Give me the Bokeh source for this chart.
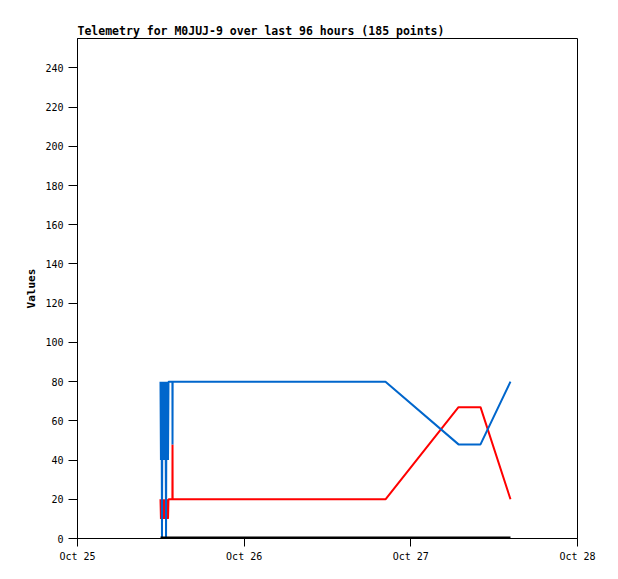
from datetime import datetime
import pandas as pd
from bokeh.plotting import figure
from bokeh.models import Range1d, FixedTicker, DatetimeTickFormatter, ColumnDataSource
from bokeh.embed import file_html
from bokeh.resources import INLINE

# ---- data ----
times = [
    "2023-10-25 11:57", "2023-10-25 12:01", "2023-10-25 12:06", "2023-10-25 12:10",
    "2023-10-25 12:14", "2023-10-25 12:19", "2023-10-25 12:23", "2023-10-25 12:27",
    "2023-10-25 12:32", "2023-10-25 12:36", "2023-10-25 12:40", "2023-10-25 12:45",
    "2023-10-25 12:49", "2023-10-25 12:53", "2023-10-25 12:58", "2023-10-25 13:02",
    "2023-10-25 13:06", "2023-10-25 13:40", "2023-10-25 13:41", "2023-10-25 13:42",
    "2023-10-26 20:21", "2023-10-27 06:52", "2023-10-27 10:02", "2023-10-27 14:21",
]
blue_vals = [80, 40, 80, 0, 80, 40, 80, 40, 80, 40, 80, 0,
             80, 40, 80, 40, 80, 80, 48, 80, 80, 48, 48, 80]
red_vals = [20, 10, 20, 10, 20, 10, 20, 10, 20, 10, 20, 10,
            20, 10, 20, 10, 20, 20, 48, 20, 20, 67, 67, 20]
black_vals = [0] * len(times)

x_start = "2023-10-25"
x_end = "2023-10-28"
day_ticks = ["2023-10-25", "2023-10-26", "2023-10-27", "2023-10-28"]
y_ticks = list(range(0, 241, 20))
title_text = "Telemetry for M0JUJ-9 over last 96 hours (185 points)"

# ---- build ----
src = ColumnDataSource(dict(t=pd.to_datetime(times), blue=blue_vals,
                            red=red_vals, black=black_vals))

FONT = "DejaVu Sans Mono"

p = figure(frame_width=500, frame_height=500,
           min_border_left=77, min_border_top=38, min_border_right=33, min_border_bottom=35,
           x_axis_type="datetime",
           x_range=Range1d(pd.Timestamp(x_start), pd.Timestamp(x_end)),
           y_range=Range1d(0, 255),
           output_backend="svg", toolbar_location=None, title=title_text)

p.title.text_font = FONT
p.title.text_font_size = "11.5px"
p.title.text_font_style = "bold"
p.title.text_color = "black"
p.title.align = "left"
p.title.standoff = 2

p.outline_line_color = "black"
p.outline_line_width = 1
p.outline_line_alpha = 1
p.xgrid.visible = False
p.ygrid.visible = False
p.background_fill_color = "white"
p.border_fill_color = "white"

p.line("t", "red", source=src, line_color="#ff0000", line_width=2)
p.line("t", "blue", source=src, line_color="#0066cc", line_width=2)
p.line("t", "black", source=src, line_color="black", line_width=4)

xa = p.xaxis[0]
xa.ticker = FixedTicker(ticks=[pd.Timestamp(d).timestamp() * 1000 for d in day_ticks])
fmt = "%b %d"
xa.formatter = DatetimeTickFormatter(milliseconds=fmt, seconds=fmt, minsec=fmt, minutes=fmt,
                                     hourmin=fmt, hours=fmt, days=fmt, months=fmt, years=fmt)
ya = p.yaxis[0]
ya.ticker = FixedTicker(ticks=y_ticks)
ya.axis_label = "Values"
ya.axis_label_text_font = FONT
ya.axis_label_text_font_size = "11px"
ya.axis_label_text_font_style = "bold"
ya.axis_label_text_color = "black"
ya.axis_label_standoff = 4

for ax in (xa, ya):
    ax.major_label_text_font = FONT
    ax.major_label_text_font_size = "10px"
    ax.major_label_text_color = "black"
    ax.axis_line_color = "black"
    ax.major_tick_line_color = "black"
    ax.minor_tick_line_color = None
    ax.major_tick_in = 0
xa.major_tick_out = 8
ya.major_tick_out = 9
xa.major_label_standoff = 4
ya.major_label_standoff = 5

open("out.html", "w").write(file_html(p, INLINE))
